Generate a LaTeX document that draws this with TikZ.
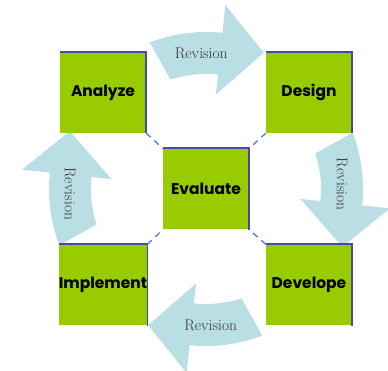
\documentclass[tikz,border=0pt]{standalone}
\usepackage{fontspec}
\newfontfamily\stagefont{Poppins}
\usetikzlibrary{positioning}

\definecolor{stagegreen}{RGB}{153,204,0}
\definecolor{edgeblue}{RGB}{72,72,170}
\definecolor{linkblue}{RGB}{80,120,210}
\definecolor{loopblue}{RGB}{185,222,228}
\definecolor{revgray}{RGB}{55,55,55}

\tikzset{
  stage/.style={fill=stagegreen, minimum width=86, minimum height=81,
    inner sep=0pt, font=\stagefont\bfseries\fontsize{15.5}{18}\selectfont},
  edge/.style={edgeblue, line width=1.6pt},
  link/.style={linkblue, line width=1.3pt, dash pattern=on 6pt off 5pt},
  revision/.style={text=revgray, font=\fontsize{15.5}{18}\selectfont}
}

\begin{document}
\begin{tikzpicture}[x=1pt,y=1pt]
\useasboundingbox (0,0) rectangle (388,371);

% curved revision arrows round the middle
\foreach \r/\t/\n in {0/0/1,-90/-90/2,-180/0/3,-270/-90/4}{
  \begin{scope}[shift={(206,182)},rotate=\r]
    \fill[loopblue] (111:157) arc[start angle=111,end angle=84,radius=157]
      -- (84:185) -- (67:148) -- (84:95) -- (84:115)
      arc[start angle=84,end angle=108,radius=115] -- cycle;
    \node[revision,rotate=\t] (rev\n) at (92:136) {Revision};
  \end{scope}
}

% the five stages
\node[stage] (evaluate)  at (206,182)  {Evaluate};
\node[stage] (analyze)   at (103,278.5) {Analyze};
\node[stage] (design)    at (309,278.5) {Design};
\node[stage] (implement) at (103,86)   {Implement};
\node[stage] (develope)  at (309,86)   {Develope};

\foreach \s in {evaluate,analyze,design,implement,develope}
  \draw[edge] (\s.north west) -- (\s.north east) -- (\s.south east);

\draw[link] (analyze.south east) -- (evaluate.north west);
\draw[link] (design.south west) -- (evaluate.north east);
\draw[link] (implement.north east) -- (evaluate.south west);
\draw[link] (develope.north west) -- (evaluate.south east);
\end{tikzpicture}
\end{document}
